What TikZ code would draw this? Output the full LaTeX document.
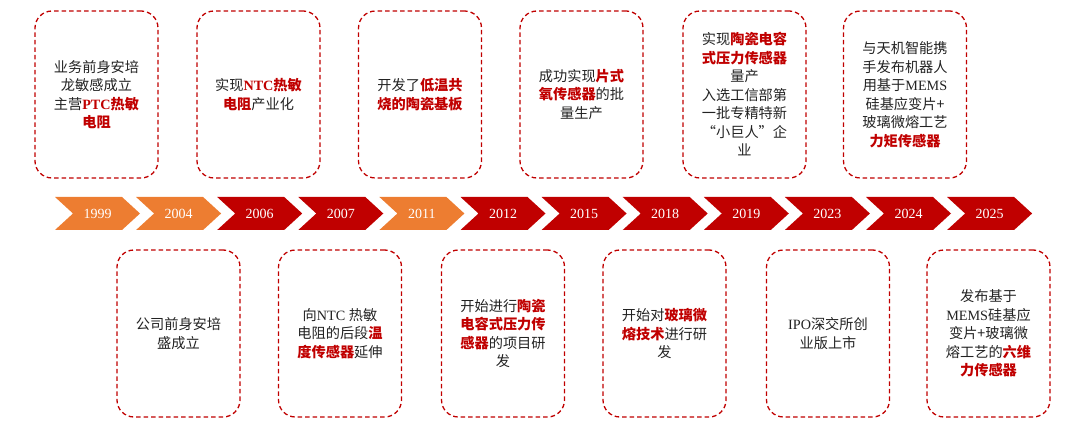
\documentclass[tikz,border=0pt]{standalone}
\usepackage{fontspec}
\setmainfont{Liberation Serif}
\newfontfamily\cjk{Noto Sans CJK SC}
\definecolor{orn}{HTML}{ED7D31}
\definecolor{dred}{HTML}{C00000}
\definecolor{txt}{HTML}{222222}
\newcommand\zh[1]{{\cjk #1}}
\newcommand\zr[1]{{\cjk\bfseries\color{dred}#1}}
\newcommand\lr[1]{{\bfseries\color{dred}#1}}
\tikzset{
  evbox/.style={draw=dred, line width=1.3pt, dash pattern=on 4.5pt off 3pt,
    rounded corners=17pt, minimum width=123pt, minimum height=167pt,
    inner sep=0pt, align=center, text=txt,
    font=\fontsize{14.2pt}{18.5pt}\selectfont},
  yearlbl/.style={text=white, inner sep=0pt, font=\fontsize{14pt}{16pt}\selectfont}
}
\begin{document}
\begin{tikzpicture}[x=1pt,y=-1pt]
\useasboundingbox (0,0) rectangle (1087,427);
\foreach \yr/\col [count=\i from 0] in {1999/orn,2004/orn,2006/dred,2007/dred,2011/orn,2012/dred,2015/dred,2018/dred,2019/dred,2023/dred,2024/dred,2025/dred}{
  \pgfmathsetmacro\xo{55+81.1*\i}
  \fill[\col] (\xo,197) -- ++(67,0) -- ++(18,16.5) -- ++(-18,16.5) -- ++(-67,0) -- ++(18,-16.5) -- cycle;
  \node[yearlbl] (y\yr) at (\xo+42.5,213.5) {\yr};
}
% top boxes
\node[evbox] (b1999) at (96.5,94.5) {\zh{业务前身安培}\\\zh{龙敏感成立}\\\zh{主营}\lr{PTC}\zr{热敏}\\\zr{电阻}};
\node[evbox] (b2006) at (258.5,94.5) {\zh{实现}\lr{NTC}\zr{热敏}\\\zr{电阻}\zh{产业化}};
\node[evbox] (b2011) at (420,94.5) {\zh{开发了}\zr{低温共}\\\zr{烧的陶瓷基板}};
\node[evbox] (b2015) at (581.5,94.5) {\zh{成功实现}\zr{片式}\\\zr{氧传感器}\zh{的批}\\\zh{量生产}};
\node[evbox] (b2019) at (744.5,94.5) {\zh{实现}\zr{陶瓷电容}\\\zr{式压力传感器}\\\zh{量产}\\\zh{入选工信部第}\\\zh{一批专精特新}\\\zh{“小巨人”企}\\\zh{业}};
\node[evbox] (b2024) at (905,94.5) {\zh{与天机智能携}\\\zh{手发布机器人}\\\zh{用基于}MEMS\\\zh{硅基应变片+}\\\zh{玻璃微熔工艺}\\\zr{力矩传感器}};
% bottom boxes
\node[evbox] (b2004) at (178.5,333.5) {\zh{公司前身安培}\\\zh{盛成立}};
\node[evbox] (b2007) at (340,333.5) {\zh{向}NTC \zh{热敏}\\\zh{电阻的后段}\zr{温}\\\zr{度传感器}\zh{延伸}};
\node[evbox] (b2012) at (503,333.5) {\zh{开始进行}\zr{陶瓷}\\\zr{电容式压力传}\\\zr{感器}\zh{的项目研}\\\zh{发}};
\node[evbox] (b2018) at (664.5,333.5) {\zh{开始对}\zr{玻璃微}\\\zr{熔技术}\zh{进行研}\\\zh{发}};
\node[evbox] (b2023) at (828,333.5) {IPO\zh{深交所创}\\\zh{业版上市}};
\node[evbox] (b2025) at (988.5,333.5) {\zh{发布基于}\\MEMS\zh{硅基应}\\\zh{变片+玻璃微}\\\zh{熔工艺的}\zr{六维}\\\zr{力传感器}};
\end{tikzpicture}
\end{document}
